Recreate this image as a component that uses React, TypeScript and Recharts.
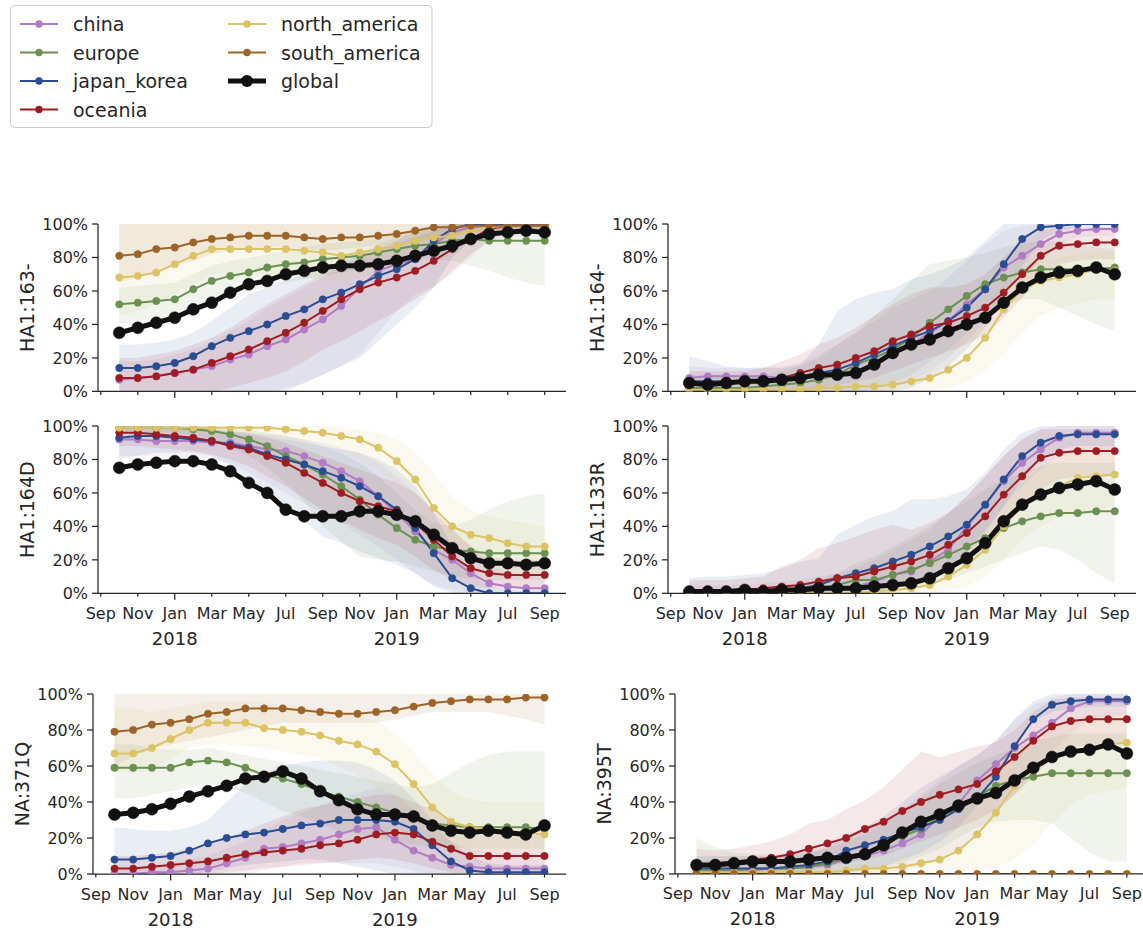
import React from 'react';
import { ComposedChart, Line, Area, XAxis, YAxis } from 'recharts';

const INK = '#262626';
const FONT = '"DejaVu Sans", sans-serif';

// Samples: first of each month, Oct 2017 .. Sep 2019, as months since 1 Sep 2017
const monthOffsets = [1, 2, 3, 4, 5, 6, 7, 8, 9, 10, 11, 12, 13, 14, 15, 16, 17, 18, 19, 20, 21, 22, 23, 24];
const monthTicks = [0, 2, 4, 6, 8, 10, 12, 14, 16, 18, 20, 22, 24];
const monthTickLabels = ['Sep', 'Nov', 'Jan', 'Mar', 'May', 'Jul', 'Sep', 'Nov', 'Jan', 'Mar', 'May', 'Jul', 'Sep'];
const yearTicks = [4, 16];
const yearTickLabels = ['2018', '2019'];
const percentTicks = [0, 20, 40, 60, 80, 100];

const regionNames = ['china', 'europe', 'japan_korea', 'oceania', 'north_america', 'south_america'];
const regionColors = ['#b27bc5', '#6a914f', '#2a4c93', '#9f1c22', '#dcc466', '#9d6428'];
const globalColor = '#111111';

// ---------- HA1:163- ----------
const h163China = [7, 8, 9, 11, 13, 15, 19, 22, 27, 31, 37, 43, 51, 62, 72, 76, 79, 88, 95, 98, 99, 99, 99, 99];
const h163ChinaLo = [0, 0, 0, 0, 0, 0, 0, 0, 0, 2, 5, 10, 15, 22, 35, 48, 58, 63, 70, 80, 90, 92, 93, 93];
const h163ChinaHi = [18, 18, 19, 22, 25, 30, 36, 42, 50, 56, 62, 68, 75, 82, 88, 92, 96, 99, 100, 100, 100, 100, 100, 100];
const h163Europe = [52, 53, 54, 55, 61, 66, 69, 71, 74, 76, 77, 79, 80, 81, 83, 85, 87, 88, 90, 91, 90, 90, 90, 90];
const h163EuropeLo = [40, 42, 44, 45, 50, 55, 58, 60, 62, 65, 67, 69, 71, 73, 75, 77, 79, 79, 78, 75, 72, 68, 65, 63];
const h163EuropeHi = [62, 63, 64, 65, 70, 75, 78, 80, 82, 84, 86, 88, 89, 90, 92, 94, 96, 98, 100, 100, 100, 100, 100, 100];
const h163Japan = [14, 14, 15, 17, 21, 27, 32, 36, 40, 45, 49, 55, 59, 64, 69, 73, 79, 90, 97, 100, 100, 100, 100, 100];
const h163JapanLo = [0, 0, 0, 0, 0, 0, 0, 0, 0, 0, 5, 10, 15, 20, 30, 40, 50, 62, 80, 90, 95, 96, 97, 97];
const h163JapanHi = [28, 28, 29, 31, 35, 42, 50, 58, 62, 66, 70, 74, 78, 82, 86, 90, 96, 100, 100, 100, 100, 100, 100, 100];
const h163Oceania = [8, 8, 9, 11, 13, 17, 21, 25, 30, 35, 41, 48, 55, 61, 65, 68, 72, 78, 85, 91, 97, 99, 99, 99];
const h163OceaniaLo = [0, 0, 0, 0, 0, 0, 2, 5, 8, 12, 18, 25, 30, 36, 42, 48, 55, 62, 72, 82, 90, 95, 96, 96];
const h163OceaniaHi = [20, 20, 22, 24, 28, 32, 38, 45, 52, 58, 64, 70, 75, 80, 85, 88, 92, 96, 100, 100, 100, 100, 100, 100];
const h163NorthAm = [68, 69, 71, 76, 81, 85, 85, 85, 85, 85, 84, 83, 81, 83, 85, 87, 90, 92, 93, 96, 98, 99, 99, 99];
const h163NorthAmLo = [45, 48, 52, 58, 64, 70, 70, 70, 70, 70, 68, 67, 66, 68, 72, 76, 80, 84, 86, 90, 94, 96, 96, 96];
const h163NorthAmHi = [100, 100, 100, 100, 100, 100, 100, 100, 100, 100, 100, 100, 100, 100, 100, 100, 100, 100, 100, 100, 100, 100, 100, 100];
const h163SouthAm = [81, 82, 85, 86, 89, 91, 92, 93, 93, 93, 92, 91, 92, 92, 93, 94, 96, 98, 98, 99, 99, 99, 99, 99];
const h163SouthAmLo = [65, 68, 72, 75, 78, 82, 84, 85, 86, 86, 85, 84, 85, 86, 87, 88, 90, 92, 94, 95, 96, 96, 96, 96];
const h163SouthAmHi = [100, 100, 100, 100, 100, 100, 100, 100, 100, 100, 100, 100, 100, 100, 100, 100, 100, 100, 100, 100, 100, 100, 100, 100];
const h163Global = [35, 38, 41, 44, 49, 53, 59, 64, 66, 70, 72, 74, 75, 75, 76, 78, 81, 84, 87, 91, 94, 95, 96, 95];

// ---------- HA1:164- ----------
const h164China = [8, 9, 9, 9, 9, 8, 8, 9, 10, 12, 17, 22, 28, 35, 42, 52, 61, 74, 81, 88, 94, 96, 97, 97];
const h164ChinaLo = [0, 0, 0, 0, 0, 0, 0, 0, 0, 0, 0, 2, 6, 12, 20, 30, 42, 58, 68, 78, 88, 92, 93, 93];
const h164ChinaHi = [15, 14, 14, 14, 15, 15, 17, 22, 28, 35, 42, 50, 55, 60, 68, 78, 88, 96, 99, 100, 100, 100, 100, 100];
const h164Europe = [2, 2, 2, 2, 3, 4, 5, 7, 10, 16, 20, 25, 32, 41, 49, 57, 64, 68, 71, 73, 73, 73, 73, 74];
const h164EuropeLo = [0, 0, 0, 0, 0, 0, 0, 0, 0, 0, 2, 5, 10, 18, 25, 35, 45, 52, 55, 55, 50, 45, 40, 36];
const h164EuropeHi = [10, 10, 10, 10, 10, 12, 15, 20, 28, 35, 45, 55, 66, 76, 78, 80, 83, 86, 88, 90, 90, 88, 86, 85];
const h164Japan = [6, 6, 6, 6, 6, 7, 9, 11, 13, 17, 22, 27, 32, 36, 42, 50, 61, 76, 91, 98, 99, 100, 100, 100];
const h164JapanLo = [0, 0, 0, 0, 0, 0, 0, 0, 0, 0, 0, 0, 2, 8, 15, 25, 38, 55, 75, 90, 96, 98, 99, 99];
const h164JapanHi = [21, 18, 15, 14, 14, 14, 16, 28, 48, 55, 59, 61, 67, 70, 74, 80, 90, 100, 100, 100, 100, 100, 100, 100];
const h164Oceania = [5, 5, 6, 6, 7, 8, 11, 14, 16, 20, 24, 30, 34, 39, 41, 45, 50, 59, 70, 81, 87, 88, 89, 89];
const h164OceaniaLo = [0, 0, 0, 0, 0, 0, 0, 2, 4, 6, 8, 12, 16, 20, 24, 28, 34, 44, 56, 68, 76, 78, 79, 79];
const h164OceaniaHi = [12, 12, 12, 12, 14, 18, 22, 28, 32, 38, 45, 52, 58, 62, 62, 64, 70, 80, 90, 96, 98, 98, 98, 98];
const h164NorthAm = [1, 1, 1, 1, 1, 1, 1, 2, 2, 3, 3, 4, 6, 8, 13, 20, 32, 49, 61, 66, 68, 70, 73, 72];
const h164NorthAmLo = [0, 0, 0, 0, 0, 0, 0, 0, 0, 0, 0, 0, 0, 0, 2, 6, 12, 22, 35, 45, 50, 52, 55, 55];
const h164NorthAmHi = [3, 3, 3, 3, 3, 3, 3, 4, 5, 6, 8, 10, 14, 18, 26, 36, 50, 64, 74, 78, 80, 82, 84, 84];
const h164Global = [5, 4, 5, 6, 6, 7, 8, 10, 10, 11, 16, 23, 28, 31, 36, 40, 44, 53, 62, 68, 71, 72, 74, 70];

// ---------- HA1:164D ----------
const h164dChina = [92, 92, 91, 91, 91, 90, 90, 88, 86, 85, 82, 78, 73, 67, 58, 48, 37, 26, 20, 12, 6, 4, 3, 3];
const h164dChinaLo = [82, 82, 82, 82, 82, 80, 78, 72, 66, 60, 54, 48, 42, 35, 28, 20, 12, 5, 2, 0, 0, 0, 0, 0];
const h164dChinaHi = [98, 98, 98, 98, 98, 98, 97, 96, 95, 94, 92, 90, 87, 84, 78, 70, 60, 48, 38, 28, 18, 12, 10, 10];
const h164dEurope = [99, 99, 99, 99, 98, 97, 95, 92, 88, 82, 77, 71, 64, 56, 47, 39, 32, 28, 26, 25, 24, 24, 24, 24];
const h164dEuropeLo = [96, 96, 96, 96, 94, 92, 88, 82, 75, 66, 55, 40, 31, 22, 20, 19, 16, 13, 10, 9, 8, 8, 8, 8];
const h164dEuropeHi = [100, 100, 100, 100, 100, 100, 99, 98, 96, 94, 92, 88, 84, 78, 70, 60, 50, 42, 40, 44, 50, 55, 58, 60];
const h164dJapan = [93, 94, 94, 93, 92, 91, 89, 87, 83, 80, 77, 73, 69, 64, 58, 50, 39, 24, 9, 3, 0, 0, 0, 0];
const h164dJapanLo = [80, 82, 84, 84, 84, 82, 76, 67, 59, 51, 43, 34, 30, 25, 21, 17, 12, 4, 0, 0, 0, 0, 0, 0];
const h164dJapanHi = [100, 100, 100, 99, 99, 98, 97, 96, 94, 92, 90, 88, 86, 84, 80, 74, 64, 48, 28, 12, 4, 2, 2, 2];
const h164dOceania = [96, 96, 95, 94, 93, 91, 88, 86, 82, 78, 72, 66, 60, 55, 52, 49, 42, 32, 22, 15, 12, 11, 11, 11];
const h164dOceaniaLo = [88, 88, 87, 86, 85, 83, 80, 76, 70, 64, 57, 50, 44, 38, 33, 29, 22, 14, 8, 4, 3, 3, 3, 3];
const h164dOceaniaHi = [100, 100, 100, 99, 99, 98, 96, 95, 93, 90, 86, 82, 78, 74, 70, 66, 60, 50, 38, 28, 22, 20, 20, 20];
const h164dNorthAm = [99, 99, 99, 99, 99, 99, 99, 99, 99, 98, 97, 96, 94, 92, 87, 79, 68, 51, 40, 35, 33, 30, 28, 28];
const h164dNorthAmLo = [96, 96, 96, 96, 96, 96, 96, 95, 94, 92, 90, 88, 85, 80, 74, 65, 52, 36, 26, 20, 18, 16, 14, 14];
const h164dNorthAmHi = [100, 100, 100, 100, 100, 100, 100, 100, 100, 100, 100, 100, 99, 98, 96, 92, 84, 72, 58, 50, 46, 44, 42, 40];
const h164dGlobal = [75, 77, 78, 79, 79, 77, 73, 66, 60, 50, 46, 46, 46, 49, 49, 47, 43, 35, 27, 21, 18, 18, 17, 18];

// ---------- HA1:133R ----------
const h133rChina = [0, 0, 0, 0, 0, 0, 1, 2, 3, 4, 7, 11, 13, 19, 26, 40, 53, 67, 78, 86, 93, 96, 96, 96];
const h133rChinaLo = [0, 0, 0, 0, 0, 0, 0, 0, 0, 0, 1, 3, 5, 8, 14, 25, 38, 52, 64, 74, 82, 86, 86, 86];
const h133rChinaHi = [5, 5, 5, 5, 6, 7, 8, 10, 12, 15, 20, 26, 32, 38, 48, 58, 70, 82, 92, 98, 100, 100, 100, 100];
const h133rEurope = [0, 0, 0, 0, 0, 1, 2, 3, 5, 8, 8, 11, 14, 18, 23, 28, 33, 39, 43, 46, 48, 48, 49, 49];
const h133rEuropeLo = [0, 0, 0, 0, 0, 0, 0, 0, 0, 0, 0, 0, 2, 5, 8, 12, 16, 20, 24, 28, 26, 20, 12, 6];
const h133rEuropeHi = [2, 2, 2, 2, 2, 3, 5, 8, 12, 18, 22, 28, 34, 40, 48, 55, 62, 68, 72, 76, 78, 78, 78, 78];
const h133rJapan = [0, 0, 0, 1, 1, 2, 3, 5, 9, 12, 15, 19, 23, 28, 34, 41, 53, 68, 82, 90, 94, 95, 95, 95];
const h133rJapanLo = [0, 0, 0, 0, 0, 0, 0, 0, 0, 0, 1, 3, 6, 10, 16, 24, 36, 52, 68, 80, 86, 88, 88, 88];
const h133rJapanHi = [9, 10, 10, 11, 12, 15, 19, 21, 35, 41, 46, 49, 56, 56, 58, 62, 72, 86, 96, 100, 100, 100, 100, 100];
const h133rOceania = [1, 1, 2, 2, 3, 4, 5, 7, 9, 10, 13, 16, 19, 23, 29, 36, 46, 59, 70, 81, 84, 85, 85, 85];
const h133rOceaniaLo = [0, 0, 0, 0, 0, 0, 0, 0, 1, 2, 3, 5, 7, 10, 14, 20, 28, 40, 52, 62, 68, 70, 70, 70];
const h133rOceaniaHi = [8, 8, 8, 9, 10, 16, 20, 27, 30, 34, 38, 41, 38, 42, 48, 58, 70, 82, 92, 98, 98, 98, 98, 98];
const h133rNorthAm = [0, 0, 0, 0, 0, 0, 0, 0, 0, 0, 1, 2, 3, 5, 10, 17, 26, 40, 52, 60, 64, 69, 70, 71];
const h133rNorthAmLo = [0, 0, 0, 0, 0, 0, 0, 0, 0, 0, 0, 0, 0, 0, 1, 4, 10, 20, 32, 40, 46, 48, 50, 52];
const h133rNorthAmHi = [1, 1, 1, 1, 1, 1, 1, 1, 2, 2, 3, 4, 6, 10, 16, 24, 36, 52, 66, 76, 82, 86, 88, 90];
const h133rGlobal = [1, 1, 1, 2, 1, 2, 2, 3, 3, 3, 4, 5, 6, 9, 15, 21, 30, 43, 53, 59, 63, 65, 67, 62];

// ---------- NA:371Q ----------
const n371qChina = [0, 0, 1, 1, 2, 3, 6, 9, 14, 15, 17, 19, 22, 25, 26, 19, 13, 9, 5, 4, 3, 3, 3, 3];
const n371qChinaLo = [0, 0, 0, 0, 0, 0, 0, 0, 2, 4, 6, 6, 6, 6, 6, 4, 2, 0, 0, 0, 0, 0, 0, 0];
const n371qChinaHi = [4, 4, 5, 6, 8, 10, 14, 18, 24, 30, 34, 38, 42, 45, 48, 44, 36, 26, 18, 14, 12, 12, 12, 12];
const n371qEurope = [59, 59, 59, 59, 62, 63, 62, 59, 55, 53, 50, 46, 43, 40, 37, 34, 32, 28, 27, 26, 26, 26, 26, 25];
const n371qEuropeLo = [42, 42, 44, 46, 48, 50, 48, 45, 40, 35, 32, 28, 24, 22, 20, 18, 16, 15, 15, 14, 14, 14, 14, 14];
const n371qEuropeHi = [72, 72, 70, 69, 69, 70, 68, 66, 64, 62, 60, 58, 56, 54, 52, 50, 48, 50, 56, 62, 66, 68, 68, 68];
const n371qJapan = [8, 8, 9, 10, 13, 17, 20, 22, 23, 25, 27, 28, 30, 30, 30, 29, 25, 16, 7, 2, 1, 1, 1, 1];
const n371qJapanLo = [0, 0, 0, 0, 0, 1, 3, 5, 6, 7, 8, 8, 6, 4, 2, 0, 0, 0, 0, 0, 0, 0, 0, 0];
const n371qJapanHi = [26, 25, 24, 24, 26, 30, 40, 50, 56, 60, 62, 63, 63, 62, 58, 52, 42, 30, 18, 10, 6, 5, 5, 5];
const n371qOceania = [3, 3, 4, 5, 6, 7, 9, 11, 12, 13, 14, 16, 17, 19, 22, 23, 22, 18, 14, 10, 10, 10, 10, 10];
const n371qOceaniaLo = [0, 0, 0, 0, 0, 0, 1, 2, 3, 4, 5, 6, 7, 8, 9, 8, 6, 3, 1, 0, 0, 0, 0, 0];
const n371qOceaniaHi = [10, 10, 11, 12, 14, 16, 20, 24, 28, 32, 36, 38, 40, 42, 44, 44, 40, 36, 30, 24, 22, 22, 22, 22];
const n371qNorthAm = [67, 67, 70, 75, 80, 84, 84, 84, 81, 80, 79, 77, 74, 72, 68, 61, 50, 37, 29, 26, 25, 24, 23, 22];
const n371qNorthAmLo = [57, 56, 58, 64, 70, 72, 72, 71, 70, 68, 66, 64, 60, 55, 48, 40, 30, 20, 15, 12, 12, 12, 12, 12];
const n371qNorthAmHi = [93, 92, 90, 92, 94, 96, 96, 96, 95, 94, 93, 92, 90, 88, 85, 78, 68, 56, 46, 42, 40, 40, 40, 40];
const n371qSouthAm = [79, 80, 83, 84, 86, 89, 90, 92, 92, 92, 91, 90, 89, 89, 90, 91, 93, 95, 96, 97, 97, 97, 98, 98];
const n371qSouthAmLo = [60, 65, 70, 72, 74, 76, 78, 80, 82, 84, 84, 84, 84, 84, 84, 86, 88, 90, 90, 90, 90, 88, 86, 83];
const n371qSouthAmHi = [100, 100, 100, 100, 100, 100, 100, 100, 100, 100, 100, 100, 100, 100, 100, 100, 100, 100, 100, 100, 100, 100, 100, 100];
const n371qGlobal = [33, 34, 36, 39, 43, 46, 49, 53, 54, 57, 53, 46, 41, 36, 33, 33, 32, 27, 24, 23, 24, 23, 22, 27];

// ---------- NA:395T ----------
const n395tChina = [1, 1, 1, 2, 3, 3, 4, 5, 8, 10, 13, 17, 22, 32, 39, 52, 61, 70, 77, 84, 92, 96, 96, 96];
const n395tChinaLo = [0, 0, 0, 0, 0, 0, 0, 0, 0, 0, 1, 2, 4, 8, 14, 22, 34, 44, 56, 68, 78, 86, 88, 88];
const n395tChinaHi = [8, 8, 8, 8, 10, 12, 14, 18, 22, 26, 30, 36, 44, 52, 60, 66, 74, 86, 94, 98, 100, 100, 100, 100];
const n395tEurope = [2, 2, 2, 3, 3, 3, 4, 6, 9, 11, 17, 21, 25, 32, 38, 43, 49, 52, 54, 56, 56, 56, 56, 56];
const n395tEuropeLo = [0, 0, 0, 0, 0, 0, 0, 0, 1, 2, 4, 6, 10, 14, 20, 26, 29, 30, 30, 28, 20, 12, 7, 7];
const n395tEuropeHi = [20, 15, 12, 11, 11, 11, 12, 14, 18, 22, 28, 34, 42, 50, 56, 62, 66, 70, 74, 76, 78, 78, 78, 78];
const n395tJapan = [3, 3, 3, 3, 3, 4, 5, 7, 13, 16, 19, 23, 26, 30, 36, 42, 54, 71, 86, 94, 96, 97, 97, 97];
const n395tJapanLo = [0, 0, 0, 0, 0, 0, 0, 0, 1, 2, 4, 8, 12, 18, 26, 38, 55, 72, 85, 90, 92, 93, 93, 93];
const n395tJapanHi = [10, 10, 10, 10, 10, 10, 12, 15, 20, 26, 32, 40, 48, 54, 60, 66, 74, 86, 96, 100, 100, 100, 100, 100];
const n395tOceania = [5, 6, 7, 8, 9, 11, 14, 17, 20, 25, 29, 35, 40, 44, 47, 50, 57, 65, 74, 82, 85, 86, 86, 86];
const n395tOceaniaLo = [0, 0, 0, 0, 0, 1, 2, 4, 6, 8, 10, 14, 18, 22, 26, 30, 36, 44, 54, 64, 70, 72, 72, 72];
const n395tOceaniaHi = [14, 13, 14, 16, 18, 22, 28, 30, 36, 41, 48, 58, 68, 65, 68, 71, 73, 80, 90, 97, 98, 98, 98, 98];
const n395tNorthAm = [1, 1, 1, 1, 1, 1, 1, 1, 2, 3, 3, 4, 6, 8, 13, 22, 34, 49, 60, 65, 68, 70, 72, 73];
const n395tNorthAmLo = [0, 0, 0, 0, 0, 0, 0, 0, 0, 0, 0, 0, 0, 0, 1, 2, 4, 8, 16, 28, 38, 44, 46, 48];
const n395tNorthAmHi = [3, 3, 3, 3, 3, 3, 3, 4, 5, 6, 8, 10, 14, 20, 30, 44, 60, 72, 80, 84, 86, 88, 90, 90];
const n395tSouthAm = [0, 0, 0, 0, 0, 0, 0, 0, 0, 0, 0, 0, 0, 0, 0, 0, 0, 0, 0, 0, 0, 0, 0, 0];
const n395tGlobal = [5, 5, 6, 7, 7, 7, 8, 9, 9, 11, 16, 23, 29, 33, 38, 42, 45, 52, 59, 65, 68, 69, 72, 67];

type Series = { line: number[]; lo?: number[]; hi?: number[] } | null;

interface PanelSpec {
  label: string;
  series: Series[]; // in regionNames order
  global: number[];
  px: number; // plot area position on the page
  py: number;
  pw: number;
  ph: number;
  tickLabels: boolean;
}

const panels: PanelSpec[] = [
  {
    label: 'HA1:163-',
    series: [
      { line: h163China, lo: h163ChinaLo, hi: h163ChinaHi },
      { line: h163Europe, lo: h163EuropeLo, hi: h163EuropeHi },
      { line: h163Japan, lo: h163JapanLo, hi: h163JapanHi },
      { line: h163Oceania, lo: h163OceaniaLo, hi: h163OceaniaHi },
      { line: h163NorthAm, lo: h163NorthAmLo, hi: h163NorthAmHi },
      { line: h163SouthAm, lo: h163SouthAmLo, hi: h163SouthAmHi },
    ],
    global: h163Global,
    px: 98, py: 224.3, pw: 468, ph: 167.4, tickLabels: false,
  },
  {
    label: 'HA1:164-',
    series: [
      { line: h164China, lo: h164ChinaLo, hi: h164ChinaHi },
      { line: h164Europe, lo: h164EuropeLo, hi: h164EuropeHi },
      { line: h164Japan, lo: h164JapanLo, hi: h164JapanHi },
      { line: h164Oceania, lo: h164OceaniaLo, hi: h164OceaniaHi },
      { line: h164NorthAm, lo: h164NorthAmLo, hi: h164NorthAmHi },
      null,
    ],
    global: h164Global,
    px: 668, py: 224.3, pw: 468, ph: 167.4, tickLabels: false,
  },
  {
    label: 'HA1:164D',
    series: [
      { line: h164dChina, lo: h164dChinaLo, hi: h164dChinaHi },
      { line: h164dEurope, lo: h164dEuropeLo, hi: h164dEuropeHi },
      { line: h164dJapan, lo: h164dJapanLo, hi: h164dJapanHi },
      { line: h164dOceania, lo: h164dOceaniaLo, hi: h164dOceaniaHi },
      { line: h164dNorthAm, lo: h164dNorthAmLo, hi: h164dNorthAmHi },
      null,
    ],
    global: h164dGlobal,
    px: 98, py: 426, pw: 468, ph: 167.3, tickLabels: true,
  },
  {
    label: 'HA1:133R',
    series: [
      { line: h133rChina, lo: h133rChinaLo, hi: h133rChinaHi },
      { line: h133rEurope, lo: h133rEuropeLo, hi: h133rEuropeHi },
      { line: h133rJapan, lo: h133rJapanLo, hi: h133rJapanHi },
      { line: h133rOceania, lo: h133rOceaniaLo, hi: h133rOceaniaHi },
      { line: h133rNorthAm, lo: h133rNorthAmLo, hi: h133rNorthAmHi },
      null,
    ],
    global: h133rGlobal,
    px: 668, py: 426, pw: 468, ph: 167.3, tickLabels: true,
  },
  {
    label: 'NA:371Q',
    series: [
      { line: n371qChina, lo: n371qChinaLo, hi: n371qChinaHi },
      { line: n371qEurope, lo: n371qEuropeLo, hi: n371qEuropeHi },
      { line: n371qJapan, lo: n371qJapanLo, hi: n371qJapanHi },
      { line: n371qOceania, lo: n371qOceaniaLo, hi: n371qOceaniaHi },
      { line: n371qNorthAm, lo: n371qNorthAmLo, hi: n371qNorthAmHi },
      { line: n371qSouthAm, lo: n371qSouthAmLo, hi: n371qSouthAmHi },
    ],
    global: n371qGlobal,
    px: 92.5, py: 693.7, pw: 473, ph: 180, tickLabels: true,
  },
  {
    label: 'NA:395T',
    series: [
      { line: n395tChina, lo: n395tChinaLo, hi: n395tChinaHi },
      { line: n395tEurope, lo: n395tEuropeLo, hi: n395tEuropeHi },
      { line: n395tJapan, lo: n395tJapanLo, hi: n395tJapanHi },
      { line: n395tOceania, lo: n395tOceaniaLo, hi: n395tOceaniaHi },
      { line: n395tNorthAm, lo: n395tNorthAmLo, hi: n395tNorthAmHi },
      { line: n395tSouthAm },
    ],
    global: n395tGlobal,
    px: 674.8, py: 693.7, pw: 473.4, ph: 180, tickLabels: true,
  },
];

const Y_AXIS_W = 90;
const M_TOP = 10;
const M_RIGHT = 10;
const X_AXIS_H = 60;
const X_DOMAIN: [number, number] = [-0.15, 25.15];

function MonthTick(props: any) {
  const { x, y, payload, withLabels } = props;
  const v = payload.value;
  const yi = yearTicks.indexOf(v);
  const major = yi >= 0;
  const mi = monthTicks.indexOf(v);
  return (
    <g>
      <line x1={x} x2={x} y1={y} y2={y + (major ? 6.5 : 3.5)} stroke={INK} strokeWidth={1.25} />
      {withLabels && (
        <text x={x} y={y + 20} textAnchor="middle" dominantBaseline="central" fontSize={16} fill={INK} fontFamily={FONT}>
          {monthTickLabels[mi]}
        </text>
      )}
      {withLabels && major && (
        <text x={x} y={y + 45} textAnchor="middle" dominantBaseline="central" fontSize={18} fill={INK} fontFamily={FONT}>
          {yearTickLabels[yi]}
        </text>
      )}
    </g>
  );
}

function Panel({ spec }: { spec: PanelSpec }) {
  const rows = monthOffsets.map((m, i) => {
    const row: Record<string, any> = { m, global: spec.global[i] };
    spec.series.forEach((s, k) => {
      if (!s) return;
      row[regionNames[k]] = s.line[i];
      if (s.lo && s.hi) row[regionNames[k] + '_band'] = [s.lo[i], s.hi[i]];
    });
    return row;
  });

  const width = spec.pw + Y_AXIS_W + M_RIGHT;
  const height = spec.ph + M_TOP + X_AXIS_H;
  const labelX = Y_AXIS_W - 71;
  const labelY = M_TOP + spec.ph / 2;

  const yLabel = () => (
    <text
      x={labelX}
      y={labelY}
      transform={`rotate(-90 ${labelX} ${labelY})`}
      textAnchor="middle"
      dominantBaseline="central"
      fontSize={19}
      fill={INK}
      fontFamily={FONT}
    >
      {spec.label}
    </text>
  );

  return (
    <div style={{ position: 'absolute', left: spec.px - Y_AXIS_W, top: spec.py - M_TOP }}>
      <ComposedChart width={width} height={height} data={rows} margin={{ top: M_TOP, right: M_RIGHT, bottom: 0, left: 0 }}>
        <XAxis
          type="number"
          dataKey="m"
          domain={X_DOMAIN}
          ticks={monthTicks}
          interval={0}
          allowDataOverflow
          height={X_AXIS_H}
          tickSize={0}
          tickMargin={0}
          tickLine={false}
          axisLine={{ stroke: INK, strokeWidth: 1.25 }}
          tick={(p: any) => <MonthTick {...p} withLabels={spec.tickLabels} />}
        />
        <YAxis
          type="number"
          domain={[0, 100]}
          ticks={percentTicks}
          interval={0}
          allowDataOverflow
          width={Y_AXIS_W}
          tickSize={6}
          tickMargin={4}
          tickLine={{ stroke: INK, strokeWidth: 1.25 }}
          axisLine={{ stroke: INK, strokeWidth: 1.25 }}
          tick={{ fontSize: 16, fill: INK, fontFamily: FONT }}
          tickFormatter={(v: number) => `${v}%`}
          label={yLabel}
        />
        {spec.series.map((s, k) =>
          s && s.lo && s.hi ? (
            <Area
              key={'band-' + k}
              type="linear"
              dataKey={regionNames[k] + '_band'}
              stroke="none"
              fill={regionColors[k]}
              fillOpacity={0.1}
              dot={false}
              activeDot={false}
              isAnimationActive={false}
            />
          ) : null
        )}
        {spec.series.map((s, k) =>
          s ? (
            <Line
              key={'line-' + k}
              type="linear"
              dataKey={regionNames[k]}
              stroke={regionColors[k]}
              strokeWidth={2}
              dot={{ r: 3.7, fill: regionColors[k], stroke: regionColors[k], strokeWidth: 0.5 }}
              activeDot={false}
              isAnimationActive={false}
            />
          ) : null
        )}
        <Line
          type="linear"
          dataKey="global"
          stroke={globalColor}
          strokeWidth={5}
          dot={{ r: 6, fill: globalColor, stroke: globalColor, strokeWidth: 0.5 }}
          activeDot={false}
          isAnimationActive={false}
        />
      </ComposedChart>
    </div>
  );
}

const legendEntries = [
  { name: 'china', color: regionColors[0], col: 0, row: 0 },
  { name: 'europe', color: regionColors[1], col: 0, row: 1 },
  { name: 'japan_korea', color: regionColors[2], col: 0, row: 2 },
  { name: 'oceania', color: regionColors[3], col: 0, row: 3 },
  { name: 'north_america', color: regionColors[4], col: 1, row: 0 },
  { name: 'south_america', color: regionColors[5], col: 1, row: 1 },
  { name: 'global', color: globalColor, col: 1, row: 2 },
];

function Legend() {
  const colX = [20, 228];
  const rowY = [24, 52.5, 81, 109.5];
  return (
    <svg width={440} height={135} style={{ position: 'absolute', left: 0, top: 0 }}>
      <rect x={10.5} y={5.5} width={421.5} height={122} rx={4} ry={4} fill="#ffffff" fillOpacity={0.8} stroke="#cccccc" strokeWidth={1} />
      {legendEntries.map((e) => {
        const x0 = colX[e.col];
        const y0 = rowY[e.row];
        const isGlobal = e.name === 'global';
        return (
          <g key={e.name}>
            <line x1={x0} x2={x0 + 38} y1={y0} y2={y0} stroke={e.color} strokeWidth={isGlobal ? 5 : 2} />
            <circle cx={x0 + 19} cy={y0} r={isGlobal ? 6 : 3.7} fill={e.color} />
            <text x={x0 + 53} y={y0} dominantBaseline="central" fontSize={19} fill={INK} fontFamily={FONT}>
              {e.name}
            </text>
          </g>
        );
      })}
    </svg>
  );
}

export default function App() {
  return (
    <div style={{ position: 'absolute', left: 0, top: 0, width: 1143, height: 931, overflow: 'hidden', background: '#ffffff' }}>
      <Legend />
      {panels.map((p) => (
        <Panel key={p.label} spec={p} />
      ))}
    </div>
  );
}
